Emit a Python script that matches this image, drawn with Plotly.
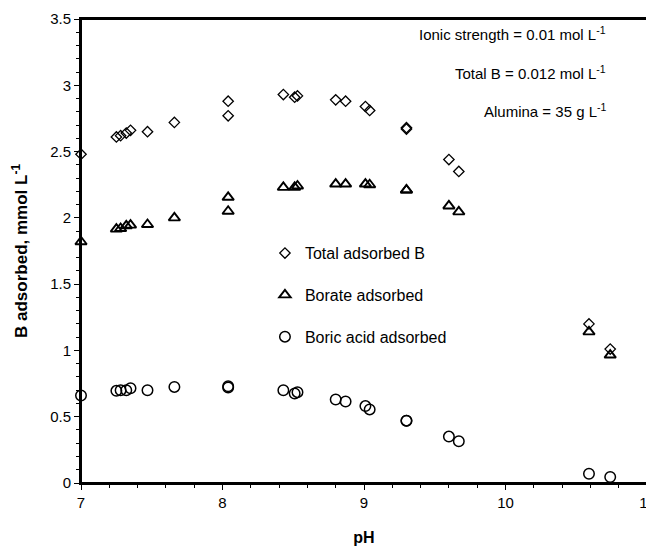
import plotly.graph_objects as go

# pH values (shared by all three series)
ph = [7.00, 7.25, 7.28, 7.32, 7.35, 7.47, 7.66, 8.04, 8.04, 8.43, 8.51, 8.53,
      8.80, 8.87, 9.01, 9.04, 9.30, 9.30, 9.60, 9.67, 10.59, 10.74]
total_b = [2.48, 2.61, 2.62, 2.64, 2.66, 2.65, 2.72, 2.88, 2.77, 2.93, 2.91, 2.92,
           2.89, 2.88, 2.84, 2.81, 2.68, 2.67, 2.44, 2.35, 1.20, 1.01]
borate = [1.82, 1.915, 1.92, 1.94, 1.945, 1.95, 2.00, 2.155, 2.05, 2.23, 2.23, 2.24,
          2.255, 2.255, 2.255, 2.25, 2.21, 2.21, 2.09, 2.045, 1.14, 0.965]
boric_acid = [0.66, 0.695, 0.70, 0.70, 0.715, 0.70, 0.725, 0.73, 0.72, 0.70, 0.675, 0.685,
              0.63, 0.615, 0.58, 0.555, 0.47, 0.47, 0.35, 0.315, 0.07, 0.045]

series_names = ["Total adsorbed B", "Borate adsorbed", "Boric acid adsorbed"]
notes = ["Ionic strength = 0.01 mol L<sup>-1</sup>",
         "Total B = 0.012 mol L<sup>-1</sup>",
         "Alumina = 35 g L<sup>-1</sup>"]
note_y = [3.39, 3.10, 2.81]

FONT = "Liberation Sans, Arial, Helvetica, sans-serif"

fig = go.Figure()
fig.add_trace(go.Scatter(x=ph, y=total_b, mode="markers", name=series_names[0],
                         legendgroup="a", cliponaxis=False,
                         marker=dict(symbol="diamond-open", size=8, color="black",
                                     line=dict(width=1.3, color="black"))))
fig.add_trace(go.Scatter(x=ph, y=borate, mode="markers", name=series_names[1],
                         legendgroup="b", cliponaxis=False,
                         marker=dict(symbol="triangle-up-open", size=10, color="black",
                                     line=dict(width=1.9, color="black"))))
fig.add_trace(go.Scatter(x=ph, y=boric_acid, mode="markers", name=series_names[2],
                         legendgroup="c", cliponaxis=False,
                         marker=dict(symbol="circle-open", size=10.5, color="black",
                                     line=dict(width=1.5, color="black"))))

for t, yy in zip(notes, note_y):
    fig.add_annotation(x=0.931, xref="paper", xanchor="right",
                       y=yy, yref="y", yanchor="middle",
                       text=t, showarrow=False,
                       font=dict(family=FONT, size=15, color="black"))

# plot frame
fig.add_shape(type="rect", xref="paper", yref="paper", x0=0, x1=1, y0=0, y1=1,
              line=dict(color="black", width=2), fillcolor="rgba(0,0,0,0)",
              layer="above")

axis_common = dict(showline=True, linecolor="black", linewidth=2, mirror=True,
                   ticks="outside", ticklen=5, tickwidth=1.2, tickcolor="black",
                   showgrid=False, zeroline=False, automargin=False,
                   tickfont=dict(family=FONT, size=15, color="black"))

fig.update_xaxes(range=[7, 11], dtick=1, tick0=7, ticklabeloverflow="allow",
                 minor=dict(dtick=0.2, ticks="outside", ticklen=3, tickcolor="black"),
                 title=dict(text="<b>pH</b>", font=dict(family=FONT, size=16, color="black"),
                            standoff=22),
                 **axis_common)
fig.update_yaxes(range=[0, 3.5], dtick=0.5, tick0=0,
                 minor=dict(dtick=0.1, ticks="outside", ticklen=3, tickcolor="black"),
                 title=dict(text="<b>B adsorbed, mmol L<sup>-1</sup></b>",
                            font=dict(family=FONT, size=17, color="black"), standoff=18),
                 **axis_common)

# page body has an 8px default margin, so the figure is sized to fit the window
fig.update_layout(
    width=646, height=543,
    margin=dict(l=73, r=7, t=11, b=68),
    paper_bgcolor="white", plot_bgcolor="white",
    showlegend=True,
    legend=dict(x=0.325, y=0.532, xanchor="left", yanchor="top",
                bgcolor="rgba(0,0,0,0)", borderwidth=0,
                traceorder="grouped", tracegroupgap=18,
                font=dict(family=FONT, size=16, color="black")),
)

fig.write_html("out.html")
